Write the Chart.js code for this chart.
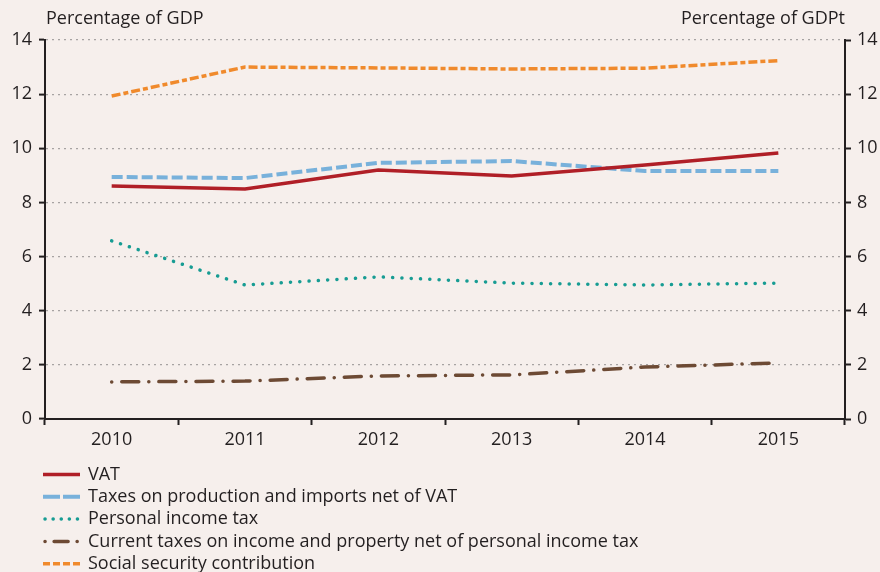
<!DOCTYPE html>
<html><head><meta charset="utf-8">
<script src="https://cdn.jsdelivr.net/npm/chart.js@4/dist/chart.umd.min.js"></script>
<style>html,body{margin:0;padding:0;background:#f6efec;}canvas{display:block;}</style>
</head><body>
<canvas id="c" width="880" height="572"></canvas>
<script>
// ---- Data ----
const years = ['2010', '2011', '2012', '2013', '2014', '2015'];
const vat = [8.61, 8.50, 9.20, 8.98, 9.38, 9.83];
const taxesProduction = [8.94, 8.90, 9.46, 9.53, 9.16, 9.16];
const personalIncomeTax = [6.58, 4.95, 5.25, 5.02, 4.95, 5.02];
const currentTaxes = [1.37, 1.40, 1.59, 1.63, 1.92, 2.07];
const socialSecurity = [11.93, 13.00, 12.97, 12.93, 12.96, 13.24];
const seriesNames = [
  'VAT',
  'Taxes on production and imports net of VAT',
  'Personal income tax',
  'Current taxes on income and property net of personal income tax',
  'Social security contribution'
];
const leftAxisTitle = 'Percentage of GDP';
const rightAxisTitle = 'Percentage of GDPt';
const yMin = 0, yMax = 14, yStep = 2;

// ---- Styling ----
const FONT = '"Open Sans", "Noto Sans", sans-serif';
const TEXT = '#231f20';
const BG = '#f6efec';

const bgPlugin = {
  id: 'bg',
  beforeDraw(chart) {
    const c = chart.ctx;
    c.save(); c.fillStyle = BG; c.fillRect(0, 0, chart.width, chart.height); c.restore();
  }
};

const titlesPlugin = {
  id: 'axisTitles',
  afterDraw(chart) {
    const c = chart.ctx, a = chart.chartArea;
    c.save();
    c.fillStyle = TEXT;
    c.font = '18px ' + FONT;
    c.textBaseline = 'middle';
    c.textAlign = 'left';
    c.fillText(leftAxisTitle, a.left + 1, 19);
    c.textAlign = 'right';
    c.fillText(rightAxisTitle, a.right, 19);
    c.restore();
  }
};

const legendPlugin = {
  id: 'stackLegend',
  afterDraw(chart) {
    const c = chart.ctx, a = chart.chartArea;
    const x0 = a.left - 2;
    chart.data.datasets.forEach((ds, i) => {
      const yy = a.bottom + 55.5 + i * 22.3;
      c.save();
      c.strokeStyle = ds.borderColor;
      c.lineWidth = ds.borderWidth;
      c.lineCap = ds.borderCapStyle || 'butt';
      c.setLineDash(ds.legendDash || []);
      c.beginPath(); c.moveTo(x0 + (ds.borderCapStyle === 'round' ? 2 : 0), yy); c.lineTo(x0 + 37, yy); c.stroke();
      c.restore();
      c.save();
      c.fillStyle = TEXT;
      c.font = '18px ' + FONT;
      c.textBaseline = 'middle';
      c.textAlign = 'left';
      c.fillText(ds.label, x0 + 45, yy);
      c.restore();
    });
  }
};

const data = {
  labels: years,
  datasets: [
    { label: seriesNames[0], data: vat, borderColor: '#b01f27', borderWidth: 3.5, borderDash: [], legendDash: [], pointRadius: 0, tension: 0, fill: false },
    { label: seriesNames[1], data: taxesProduction, borderColor: '#78b1db', borderWidth: 4, borderDash: [11, 4], legendDash: [17, 3], pointRadius: 0, tension: 0, fill: false },
    { label: seriesNames[2], data: personalIncomeTax, borderColor: '#179c93', borderWidth: 3.5, borderDash: [0.1, 9.2], legendDash: [0.1, 8], borderCapStyle: 'round', pointRadius: 0, tension: 0, fill: false },
    { label: seriesNames[3], data: currentTaxes, borderColor: '#6d4a34', borderWidth: 3.5, borderDash: [0.1, 10, 17, 10], legendDash: [0.1, 9, 14, 9], borderCapStyle: 'round', pointRadius: 0, tension: 0, fill: false },
    { label: seriesNames[4], data: socialSecurity, borderColor: '#f08a2c', borderWidth: 3.5, borderDash: [9, 3, 5, 3], legendDash: [7, 3], pointRadius: 0, tension: 0, fill: false }
  ]
};

const tickFont = { family: FONT, size: 18 };

new Chart(document.getElementById('c'), {
  type: 'line',
  data,
  plugins: [bgPlugin, titlesPlugin, legendPlugin],
  options: {
    responsive: false,
    animation: false,
    events: [],
    layout: { padding: { top: 40, bottom: 109, left: 0, right: 0 } },
    plugins: { legend: { display: false }, tooltip: { enabled: false }, title: { display: false } },
    scales: {
      x: {
        type: 'category',
        offset: true,
        grid: { offset: true, drawOnChartArea: false, drawTicks: true, tickLength: 6, tickColor: TEXT, tickWidth: 2 },
        border: { display: true, color: TEXT, width: 2 },
        ticks: { color: TEXT, font: tickFont, padding: 4, maxRotation: 0, autoSkip: false },
        afterFit(s) { s.height = 44; }
      },
      y: {
        position: 'left',
        min: yMin, max: yMax,
        ticks: { stepSize: yStep, color: TEXT, font: tickFont, padding: 7 },
        grid: {
          color: (ctx) => ctx.tick && ctx.tick.value === 0 ? 'rgba(0,0,0,0)' : '#a7a3a2',
          lineWidth: 1.2,
          drawTicks: true, tickLength: 6, tickColor: TEXT, tickWidth: 2, tickBorderDash: []
        },
        border: { display: true, color: TEXT, width: 2, dash: [2, 4] },
        afterFit(s) { s.width = 45; }
      },
      y2: {
        position: 'right',
        min: yMin, max: yMax,
        ticks: { stepSize: yStep, color: TEXT, font: tickFont, padding: 6 },
        grid: { drawOnChartArea: false, drawTicks: true, tickLength: 6, tickColor: TEXT, tickWidth: 2 },
        border: { display: true, color: TEXT, width: 2 },
        afterFit(s) { s.width = 35; }
      }
    }
  }
});
</script>
</body></html>
